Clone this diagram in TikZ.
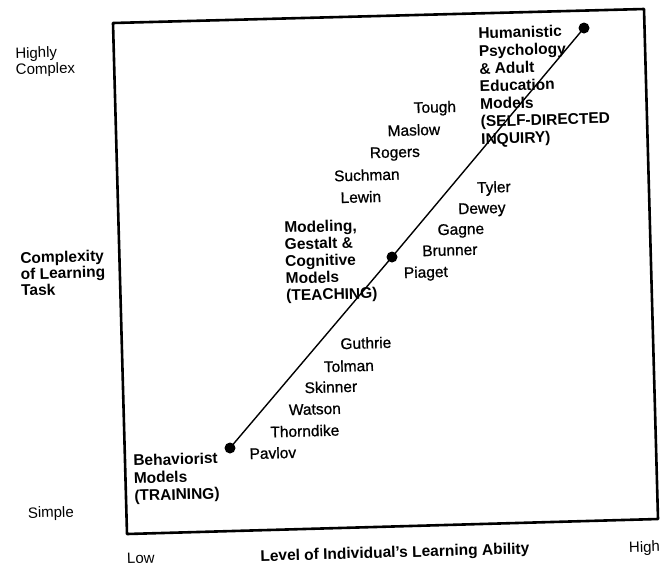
\documentclass[tikz,border=0pt]{standalone}
\usepackage{fontspec}
\setmainfont{Liberation Sans}
\newfontfamily\scholarfont[FakeBold=0.8]{Liberation Sans}

\tikzset{
    tilted/.style={rotate=1.6, inner sep=0pt},
    scholar/.style={tilted, anchor=base, font=\scholarfont\fontsize{15.5}{17.5}\selectfont},
    model/.style={tilted, anchor=north west, align=left,
        font=\fontsize{15.5}{17.6}\selectfont\bfseries},
    axistext/.style={tilted, font=\fontsize{15}{16}\selectfont},
    dot/.style={circle, fill=black, inner sep=0pt, minimum size=11pt},
}

\begin{document}
\begin{tikzpicture}[x=1pt, y=-1pt, line join=round]
    \useasboundingbox (0,0) rectangle (661,566);

    % frame
    \coordinate (tl) at (113,23);
    \coordinate (tr) at (644,9);
    \coordinate (br) at (658,519);
    \coordinate (bl) at (127,534);
    \draw[line width=2.6pt] (tl) -- (tr) -- (br) -- (bl) -- cycle;

    % the three stages
    \node[dot] (low) at (230,448) {};
    \node[dot] (mid) at (392,257) {};
    \node[dot] (top) at (584,28) {};
    \draw[line width=1.4pt] (low.center) -- (mid.center) -- (top.center);

    \node[model] (humanistic) at (478,27.5) {Humanistic\\Psychology\\\& Adult\\Education\\Models\\(SELF-DIRECTED\\INQUIRY)};
    \node[model, font=\fontsize{15.5}{17}\selectfont\bfseries] (modeling) at (284,221.5) {Modeling,\\Gestalt \&\\Cognitive\\Models\\(TEACHING)};
    \node[model] (behaviorist) at (133,454.5) {Behaviorist\\Models\\(TRAINING)};

    % upper left of the line
    \node[scholar] (tough) at (435,112.5) {Tough};
    \node[scholar] (maslow) at (414,135.5) {Maslow};
    \node[scholar] (rogers) at (395,157.5) {Rogers};
    \node[scholar] (suchman) at (367,180.5) {Suchman};
    \node[scholar] (lewin) at (361,202.5) {Lewin};

    % lower right of the line
    \node[scholar] (tyler) at (494,192.5) {Tyler};
    \node[scholar] (dewey) at (482,213.5) {Dewey};
    \node[scholar] (gagne) at (461,234.5) {Gagne};
    \node[scholar] (brunner) at (450,255.5) {Brunner};
    \node[scholar] (piaget) at (426,277.5) {Piaget};

    \node[scholar] (guthrie) at (366,348.5) {Guthrie};
    \node[scholar] (tolman) at (349,371.5) {Tolman};
    \node[scholar] (skinner) at (331,392.5) {Skinner};
    \node[scholar] (watson) at (315,414.5) {Watson};
    \node[scholar] (thorndike) at (305,436.5) {Thorndike};
    \node[scholar] (pavlov) at (273,458.5) {Pavlov};

    % vertical axis
    \node[axistext, anchor=north west, align=left] (complexhi) at (15,47.5) {Highly\\Complex};
    \node[axistext, anchor=north west, align=left, font=\fontsize{15.5}{16.2}\selectfont\bfseries] (taskaxis) at (20,252) {Complexity\\of Learning\\Task};
    \node[axistext, anchor=base] (simple) at (51,517.5) {Simple};

    % horizontal axis
    \node[axistext, anchor=base] (lowend) at (141,563.5) {Low};
    \node[axistext, anchor=base, font=\fontsize{15.5}{16}\selectfont\bfseries] (abilityaxis) at (395,557.5) {Level of Individual's Learning Ability};
    \node[axistext, anchor=base west] (highend) at (629,552.5) {High};
\end{tikzpicture}
\end{document}
